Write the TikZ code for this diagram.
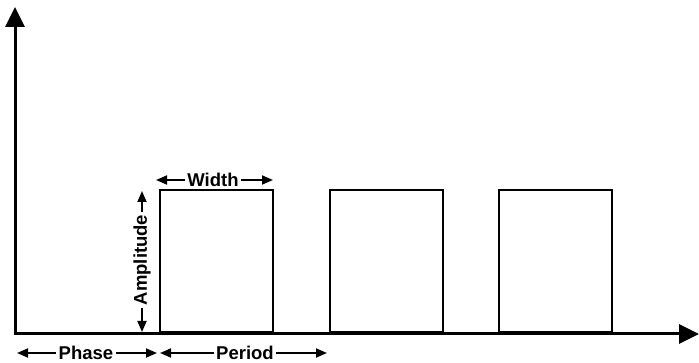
\documentclass[tikz,border=0pt]{standalone}
\usepackage{fontspec}
\setmainfont{Liberation Sans}
\usetikzlibrary{arrows.meta}
\begin{document}
\begin{tikzpicture}[x=1pt,y=-1pt,
  axisline/.style={line width=3pt,-{Triangle[length=20pt,width=19pt]}},
  pulse/.style={draw,line width=2pt,inner sep=0pt,minimum width=113pt,minimum height=142pt,anchor=south west},
  dimarrow/.style={line width=1.8pt,-{Triangle[length=11pt,width=9pt]}},
  lbl/.style={font=\fontsize{18.5}{22}\selectfont\bfseries,inner sep=2.5pt,text=black}]
\useasboundingbox (0,0) rectangle (699,363);
% axes
\coordinate (o) at (15,334);
\coordinate (ytip) at (15,7);
\coordinate (xtip) at (699,334);
\draw[axisline] (o) -- (ytip);
\draw[axisline] ([xshift=-1.5pt]o) -- (xtip);
% pulses
\node[pulse] (p1) at (159,333) {};
\node[pulse] (p2) at (329,333) {};
\node[pulse] (p3) at (498,333) {};
% width
\coordinate (wl) at (156,180);
\coordinate (wr) at (273,180);
\node[lbl] (wt) at (213,180) {Width};
\draw[dimarrow] (wt) -- (wl);
\draw[dimarrow] (wt) -- (wr);
% amplitude
\coordinate (au) at (142,191);
\coordinate (ad) at (142,332);
\node[lbl,rotate=90] (at) at (142,260) {Amplitude};
\draw[dimarrow] (at) -- (au);
\draw[dimarrow] (at) -- (ad);
% phase
\coordinate (phl) at (17,353);
\coordinate (phr) at (157,353);
\node[lbl] (pht) at (86,353) {Phase};
\draw[dimarrow] (pht) -- (phl);
\draw[dimarrow] (pht) -- (phr);
% period
\coordinate (pel) at (160,353);
\coordinate (per) at (327,353);
\node[lbl] (pet) at (245,353) {Period};
\draw[dimarrow] (pet) -- (pel);
\draw[dimarrow] (pet) -- (per);
\end{tikzpicture}
\end{document}
